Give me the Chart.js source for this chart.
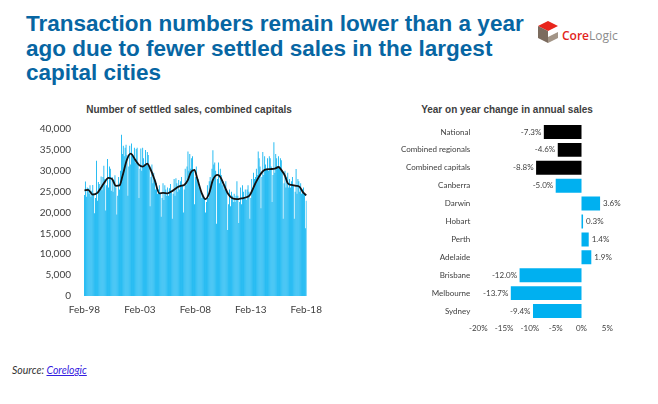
<!DOCTYPE html>
<html><head><meta charset="utf-8">
<script src="https://cdn.jsdelivr.net/npm/chart.js@4/dist/chart.umd.min.js"></script>
<style>
html,body{margin:0;padding:0;background:#fff;}
body{width:658px;height:404px;position:relative;overflow:hidden;}
#title{position:absolute;left:26px;top:12px;font:bold 22.5px/24.5px "Liberation Sans",Arial,sans-serif;color:#0766a3;white-space:nowrap;}
#logo{position:absolute;left:536px;top:19px;}
#logotext{position:absolute;left:562px;top:29px;font:12px/14px "Open Sans",sans-serif;color:#8c8c8c;white-space:nowrap;}
#logotext span{color:#e2231a;font-weight:600;}
.ctitle{position:absolute;top:104px;font:bold 10px/12px "Liberation Sans",Arial,sans-serif;color:#404040;white-space:nowrap;transform:translateX(-50%);}
#c1{position:absolute;left:0;top:98px;}
#c2{position:absolute;left:330px;top:98px;}
#source{position:absolute;left:12px;top:364px;font:italic 10.5px Lato,sans-serif;color:#333;}
#source a{color:#3320e0;text-decoration:underline;}
</style>
</head>
<body>
<div id="title">Transaction numbers remain lower than a year<br>ago due to fewer settled sales in the largest<br>capital cities</div>
<svg id="logo" width="24" height="26" viewBox="0 0 24 26">
  <polygon points="2,7 12,2 22,7 12,12" fill="#e8251c"/>
  <polygon points="2,7 12,12 12,24 2,19" fill="#7b6b5e"/>
  <polygon points="12,18 22,13 22,19 12,24" fill="#a39587"/>
</svg>
<div id="logotext"><span>Core</span>Logic</div>
<div class="ctitle" style="left:189px">Number of settled sales, combined capitals</div>
<div class="ctitle" style="left:507px">Year on year change in annual sales</div>
<canvas id="c1" width="330" height="232"></canvas>
<canvas id="c2" width="328" height="247"></canvas>
<div id="source">Source: <a href="#">Corelogic</a></div>
<script>
// ---- Left chart data: monthly settled sales, Feb-98 .. Feb-18 ----
const settledSales = [
  24200, 27400, 23800, 26000, 25800, 24500, 26500, 23800, 25200, 26600, 24600, 19800,
  23500, 32400, 22800, 27300, 26800, 25400, 28600, 25300, 28500, 31200, 28000, 20500,
  26500, 32800, 26000, 31000, 30500, 25200, 28500, 25000, 27800, 28900, 26000, 19500,
  24000, 28500, 25500, 30000, 38600, 34000, 36000, 33500, 35500, 36200, 33800, 24000,
  31000, 36000, 31500, 36500, 34000, 33000, 35500, 32000, 35200, 35500, 32000, 23500,
  30500, 35300, 30000, 35500, 33000, 31500, 35000, 31500, 34500, 33800, 31000, 21500,
  28500, 31500, 27000, 29500, 28000, 25500, 27000, 24500, 25500, 26500, 24500, 19000,
  23500, 27000, 23000, 26500, 25500, 24000, 26000, 24000, 25800, 26800, 25000, 18500,
  24500, 28000, 24000, 28200, 27000, 25000, 27800, 25500, 27500, 28500, 26500, 20000,
  25500, 30500, 26500, 31000, 34600, 30000, 34000, 30500, 33000, 33500, 30000, 22000,
  28500, 31000, 27500, 28000, 26000, 25500, 25000, 23500, 24500, 24000, 23500, 20000,
  22500, 26500, 23500, 27500, 28500, 27500, 30500, 34900, 31500, 32000, 30000, 17300,
  28000, 32000, 27000, 30500, 29000, 26500, 27500, 25500, 26500, 27500, 25500, 15800,
  22000, 25500, 21500, 25000, 24000, 22500, 24500, 22500, 24000, 27500, 24000, 17500,
  22500, 26000, 22000, 26500, 25000, 23500, 25500, 23000, 25500, 26500, 25000, 18500,
  23500, 28000, 25500, 29500, 28000, 28500, 30500, 29000, 34600, 33000, 31000, 21000,
  28500, 34500, 29000, 33500, 31500, 30500, 33000, 30000, 33500, 33000, 31000, 22500,
  29000, 36800, 29500, 34000, 33000, 31000, 33500, 30500, 33000, 32500, 30000, 18500,
  27000, 30000, 26000, 28500, 29500, 26000, 28000, 26000, 27500, 28500, 26500, 18500,
  25000, 30400, 24500, 28000, 27500, 25000, 27000, 24500, 25500, 26000, 24500, 16200,
  22800
];
// 12-month average line, read at selected months
const lineDates = ['Feb-98','Jun-98','Nov-98','Apr-99','Jul-99','Nov-99','Apr-00','Aug-00','Dec-00','Apr-01','Jul-01','Dec-01','Apr-02','Sep-02','Jan-03','May-03','Oct-03','Jan-04','Jun-04','Nov-04','Mar-05','Aug-05','Feb-06','Jul-06','Oct-06','Feb-07','Jun-07','Sep-07','Jan-08','Apr-08','Sep-08','Jan-09','May-09','Sep-09','Feb-10','May-10','Sep-10','Jan-11','Jun-11','Nov-11','Apr-12','Oct-12','Jan-13','Jul-13','Dec-13','May-14','Nov-14','Apr-15','Aug-15','Nov-15','Mar-16','Jun-16','Oct-16','Mar-17','Jul-17','Oct-17','Feb-18'];
const lineValues = [25300,25400,24300,24700,25600,27000,28300,28000,26400,26500,28600,32700,34100,32600,31400,31000,31700,30600,27800,24600,24700,24600,25300,26100,26400,26600,27800,29600,30200,28200,24600,23200,24600,27800,29000,28500,26600,24600,23400,23200,23400,23700,24200,27000,29000,30200,30400,30500,30900,30200,28800,27000,26600,26400,26100,25000,24100];
const xTickLabels = ['Feb-98','Feb-03','Feb-08','Feb-13','Feb-18'];
const monthNames = ['Jan','Feb','Mar','Apr','May','Jun','Jul','Aug','Sep','Oct','Nov','Dec'];
const months = settledSales.map((_, i) => monthNames[(1 + i) % 12] + '-' + String((98 + Math.floor((1 + i) / 12)) % 100).padStart(2, '0'));

// ---- Right chart data ----
const regions = ['National','Combined regionals','Combined capitals','Canberra','Darwin','Hobart','Perth','Adelaide','Brisbane','Melbourne','Sydney'];
const yoyChange = [-7.3,-4.6,-8.8,-5.0,3.6,0.3,1.4,1.9,-12.0,-13.7,-9.4];
const aggregateRegions = ['National','Combined regionals','Combined capitals'];

Chart.defaults.font.family = 'Lato';

new Chart(document.getElementById('c1'), {
  type: 'bar',
  data: {
    labels: months,
    datasets: [
      { type: 'line', data: lineDates.map((d, i) => ({ x: d, y: lineValues[i] })), borderColor: '#111', borderWidth: 1.8, pointRadius: 0, cubicInterpolationMode: 'monotone', fill: false, order: 0 },
      { type: 'bar', data: settledSales, backgroundColor: '#00b0f0', barPercentage: 0.9, categoryPercentage: 1, order: 1 }
    ]
  },
  options: {
    responsive: false, animation: false,
    layout: { padding: { left: 0, right: 21.5, top: 31, bottom: 0 } },
    plugins: { legend: { display: false }, tooltip: { enabled: false } },
    scales: {
      x: {
        grid: { display: false, drawTicks: false }, border: { display: false },
        ticks: { autoSkip: false, maxRotation: 0, minRotation: 0, padding: 8, color: '#404040', font: { size: 10 },
          callback: function (v) { const l = this.getLabelForValue(v); return xTickLabels.includes(l) ? l : ''; } },
        afterFit: s => { s.height = 34; }
      },
      y: {
        min: 0, max: 40000,
        grid: { display: false, drawTicks: false }, border: { display: false },
        ticks: { stepSize: 5000, padding: 13, color: '#404040', font: { size: 10 }, callback: v => v.toLocaleString('en-US') },
        afterFit: s => { s.width = 84; }
      }
    }
  }
});

const barLabelPlugin = {
  id: 'barLabels',
  afterDatasetsDraw(chart) {
    const ctx = chart.ctx;
    const meta = chart.getDatasetMeta(0);
    const vals = chart.data.datasets[0].data;
    ctx.save();
    ctx.font = '8px Lato';
    ctx.fillStyle = '#404040';
    ctx.textBaseline = 'middle';
    meta.data.forEach((el, i) => {
      const v = vals[i];
      const txt = v.toFixed(1) + '%';
      if (v < 0) { ctx.textAlign = 'right'; ctx.fillText(txt, el.x - 2.5, el.y); }
      else { ctx.textAlign = 'left'; ctx.fillText(txt, el.x + 3, el.y); }
    });
    ctx.restore();
  }
};

new Chart(document.getElementById('c2'), {
  type: 'bar',
  data: {
    labels: regions,
    datasets: [{ data: yoyChange, backgroundColor: regions.map(r => aggregateRegions.includes(r) ? '#000000' : '#00b0f0'), barPercentage: 0.78, categoryPercentage: 1 }]
  },
  options: {
    indexAxis: 'y', responsive: false, animation: false,
    layout: { padding: { left: 0, right: 50.7, top: 25, bottom: 0 } },
    plugins: { legend: { display: false }, tooltip: { enabled: false } },
    scales: {
      x: {
        min: -20, max: 5,
        grid: { display: false, drawTicks: false }, border: { display: false },
        ticks: { stepSize: 5, padding: 4, color: '#404040', font: { size: 8 }, callback: v => v + '%' },
        afterFit: s => { s.height = 25; }
      },
      y: {
        grid: { display: false, drawTicks: false }, border: { display: false },
        ticks: { padding: 8, color: '#404040', font: { size: 8 }, autoSkip: false },
        afterFit: s => { s.width = 148.3; }
      }
    }
  },
  plugins: [barLabelPlugin]
});
</script>
</body></html>
